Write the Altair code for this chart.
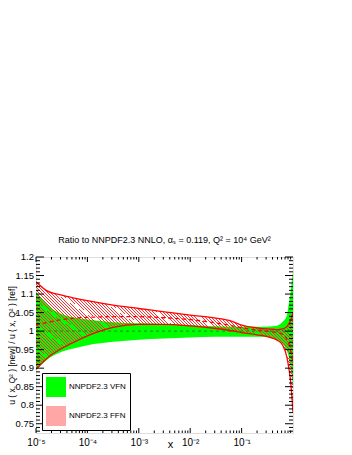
import altair as alt
import pandas as pd

# x positions (momentum fraction) at which the bands were read
x_vals = [1e-5, 1.58e-5, 3.16e-5, 5.62e-5, 1e-4, 3.16e-4, 1e-3, 3.16e-3, 1e-2,
          3.16e-2, 0.063, 0.1, 0.2, 0.316, 0.4, 0.5, 0.63, 0.76, 0.83, 0.89,
          0.93, 0.966, 1.0]

vfn_hi = [1.106, 1.074, 1.046, 1.036, 1.031, 1.024, 1.021, 1.019, 1.016, 1.013,
          1.012, 1.012, 1.012, 1.012, 1.013, 1.015, 1.025, 1.042, 1.075, 1.100,
          1.125, 1.145, 1.160]
vfn_lo = [0.895, 0.921, 0.944, 0.954, 0.962, 0.971, 0.977, 0.980, 0.983, 0.985,
          0.985, 0.985, 0.985, 0.984, 0.982, 0.977, 0.965, 0.946, 0.930, 0.910,
          0.890, 0.870, 0.850]
vfn_c = [1.0] * 23

ffn_hi = [1.133, 1.110, 1.097, 1.089, 1.082, 1.070, 1.061, 1.052, 1.043, 1.035,
          1.027, 1.016, 1.009, 1.006, 1.005, 1.004, 1.006, 1.012, 1.020, 1.028,
          1.035, 1.042, 1.050]
ffn_c = [1.016, 1.023, 1.031, 1.035, 1.037, 1.039, 1.039, 1.036, 1.031, 1.022,
         1.015, 1.009, 1.003, 1.000, 0.998, 0.996, 0.991, 0.978, 0.965, 0.950,
         0.935, 0.925, 0.915]
ffn_lo = [0.897, 0.925, 0.953, 0.971, 0.987, 1.010, 1.018, 1.018, 1.014, 1.007,
          1.001, 0.996, 0.990, 0.985, 0.981, 0.975, 0.962, 0.930, 0.900, 0.870,
          0.840, 0.810, 0.780]

series_names = ["NNPDF2.3 VFN", "NNPDF2.3 FFN"]

x_major = [1e-5, 1e-4, 1e-3, 1e-2, 1e-1]
x_minor = [m * 10.0 ** k for k in range(-5, 0) for m in range(2, 10)]
y_major = [0.75, 0.8, 0.85, 0.9, 0.95, 1.0, 1.05, 1.1, 1.15, 1.2]
y_labels = ["0.75", "0.8", "0.85", "0.9", "0.95", "1", "1.05", "1.1", "1.15", "1.2"]
y_minor = [round(0.73 + 0.01 * i, 2) for i in range(47)
           if round(0.73 + 0.01 * i, 2) not in y_major]

W, H = 257, 176
FONT = "Liberation Sans"
YT = "u ( x, Q² ) [new] / u ( x, Q² ) [ref]"
NB = "\u00a0" * 11

df = pd.DataFrame({
    "x": x_vals, "vfn_hi": vfn_hi, "vfn_lo": vfn_lo, "vfn_c": vfn_c,
    "ffn_hi": ffn_hi, "ffn_lo": ffn_lo, "ffn_c": ffn_c,
    "series": series_names[0],
})

xscale = alt.Scale(type="log", domain=[1e-5, 1.0], nice=False)
yscale = alt.Scale(domain=[0.725, 1.2], nice=False, zero=False)

label_expr = ("datum.value < 3e-5 ? '10⁻⁵' : datum.value < 3e-4 ? '10⁻⁴' : "
              "datum.value < 3e-3 ? '10⁻³' : datum.value < 3e-2 ? '10⁻²' : '10⁻¹'")

X = alt.X("x:Q", scale=xscale, title="x", axis=alt.Axis(
    values=x_major, labelExpr=label_expr, ticks=False, domain=False, grid=False,
    labelPadding=4, labelFontSize=10, labelFont=FONT, labelFlush=False,
    labelOverlap=False, labelColor="black", titleFont=FONT, titleFontSize=11,
    titleFontWeight="normal", titleColor="black", titleX=134, titleY=14,
    titleBaseline="alphabetic", titleAlign="center"))

YAXIS = alt.Axis(values=y_major, labels=False, ticks=False, domain=False,
                 grid=False, titleFont=FONT, titleFontSize=8.5,
                 titleFontWeight="normal", titleColor="black", titlePadding=20)


def Yf(field):
    return alt.Y(field, scale=yscale, title=YT, axis=YAXIS)


def Xf(field):
    return alt.X(field, scale=xscale, title="x")


# diagonal hatch emulated with a striped linear gradient
N = 125
stops = []
for i in range(N):
    a = i / N
    b = (i + 0.3) / N
    c = (i + 1) / N
    stops += [alt.GradientStop(color="#ff3030", offset=a),
              alt.GradientStop(color="#ff3030", offset=b),
              alt.GradientStop(color="rgba(255,255,255,0)", offset=b),
              alt.GradientStop(color="rgba(255,255,255,0)", offset=c)]
hatch_fill = alt.LinearGradient(gradient="linear", stops=stops,
                                x1=0, y1=1, x2=1.2, y2=0.398)

base = alt.Chart(df)

green = base.mark_area(clip=True, interpolate="monotone", opacity=1).encode(
    x=X, y=Yf("vfn_lo:Q"), y2="vfn_hi:Q",
    color=alt.Color("series:N",
                    scale=alt.Scale(domain=series_names, range=["#00ff00", "#ffa6a6"]),
                    legend=alt.Legend(
                        title=None, orient="none", legendX=6, legendY=116,
                        symbolType="square", symbolSize=400, symbolStrokeWidth=0,
                        symbolOpacity=1,
                        labelFont=FONT, labelFontSize=8, labelOffset=3,
                        labelColor="black", rowPadding=9, padding=4,
                        strokeColor="black", fillColor="white",
                        labelExpr="datum.label + '" + NB + "'")))

hatch = base.mark_area(clip=True, interpolate="monotone", color=hatch_fill).encode(
    x=Xf("x:Q"), y=Yf("ffn_lo:Q"), y2="ffn_hi:Q")

green_c = base.mark_line(clip=True, color="#2a6a2a", strokeWidth=0.8,
                         strokeDash=[3, 3]).encode(x=Xf("x:Q"), y=Yf("vfn_c:Q"))

red_hi = base.mark_line(clip=True, interpolate="monotone", color="#ff0000",
                        strokeWidth=1.3).encode(x=Xf("x:Q"), y=Yf("ffn_hi:Q"))
red_lo = base.mark_line(clip=True, interpolate="monotone", color="#ff0000",
                        strokeWidth=1.3).encode(x=Xf("x:Q"), y=Yf("ffn_lo:Q"))
red_c = base.mark_line(clip=True, interpolate="monotone", color="#ff0000",
                       strokeWidth=1.3, strokeDash=[4, 3]).encode(
    x=Xf("x:Q"), y=Yf("ffn_c:Q"))

# y tick labels placed through the y scale
ylab = alt.Chart(pd.DataFrame({"y": y_major, "lab": y_labels})).mark_text(
    align="right", baseline="middle", font=FONT, fontSize=9.5, color="black",
    dx=-2).encode(y=Yf("y:Q"), x=alt.value(0), text="lab:N")

# inward ticks on all four sides
xmaj = alt.Chart(pd.DataFrame({"x": x_major}))
xmin = alt.Chart(pd.DataFrame({"x": x_minor}))
ymaj = alt.Chart(pd.DataFrame({"y": y_major}))
ymin = alt.Chart(pd.DataFrame({"y": y_minor}))


def xt(ch, length):
    bot = ch.mark_rule(color="black", strokeWidth=1).encode(
        x=Xf("x:Q"), y=alt.value(H), y2=alt.value(H - length))
    top = ch.mark_rule(color="black", strokeWidth=1).encode(
        x=Xf("x:Q"), y=alt.value(0), y2=alt.value(length))
    return [bot, top]


def yt(ch, length):
    left = ch.mark_rule(color="black", strokeWidth=1).encode(
        y=Yf("y:Q"), x=alt.value(0), x2=alt.value(length))
    right = ch.mark_rule(color="black", strokeWidth=1).encode(
        y=Yf("y:Q"), x=alt.value(W), x2=alt.value(W - length))
    return [left, right]


ticks = xt(xmaj, 5) + xt(xmin, 2.5) + yt(ymaj, 8) + yt(ymin, 4)

chart = alt.layer(green, hatch, green_c, red_hi, red_lo, red_c, ylab, *ticks).properties(
    width=W, height=H,
    autosize=alt.AutoSizeParams(type="none"),
    padding={"left": 28, "top": 249, "right": 12, "bottom": 18},
    title=alt.Title("Ratio to NNPDF2.3 NNLO, αₛ = 0.119, Q² = 10⁴ GeV²",
                    font=FONT, fontSize=9, fontWeight="normal", anchor="middle",
                    offset=7, color="black"),
).configure_view(stroke="black", strokeWidth=1).configure(background="white")

chart.save("out.html", embed_options={"renderer": "svg", "actions": False})
